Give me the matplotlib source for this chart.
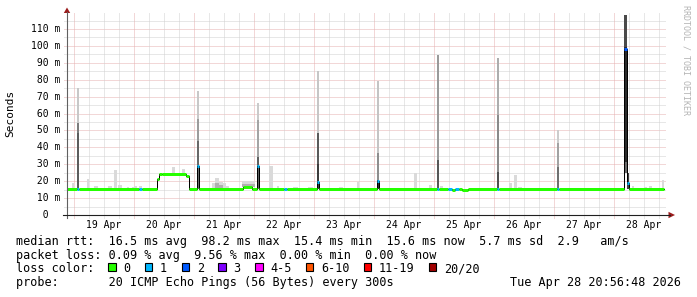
import numpy as np
import matplotlib
matplotlib.use("Agg")
import matplotlib.pyplot as plt
import matplotlib.transforms as mtransforms
from matplotlib.patches import Rectangle, Polygon
from matplotlib.lines import Line2D

plt.rcParams['font.family'] = 'DejaVu Sans Mono'
plt.rcParams['lines.scale_dashes'] = False

# axes ticks / labels
day_ticks = [19, 20, 21, 22, 23, 24, 25, 26, 27, 28]
day_labels = ['19 Apr', '20 Apr', '21 Apr', '22 Apr', '23 Apr',
              '24 Apr', '25 Apr', '26 Apr', '27 Apr', '28 Apr']
y_ticks = [0, 10, 20, 30, 40, 50, 60, 70, 80, 90, 100, 110]
y_labels = ['  0  ', ' 10 m', ' 20 m', ' 30 m', ' 40 m', ' 50 m', ' 60 m',
            ' 70 m', ' 80 m', ' 90 m', '100 m', '110 m']

# median rtt (ms) as steps: start time (day of april), value, loss count class
med_t = [18.890, 19.057, 19.090, 20.095, 20.145, 20.390, 20.423, 20.478, 20.873,
         20.917, 21.057, 21.090, 21.828, 21.978, 22.057, 22.090, 22.500, 22.557,
         23.057, 23.090, 24.057, 24.090, 25.057, 25.090, 25.240, 25.312, 25.362,
         25.417, 25.478, 25.578, 26.057, 26.090, 27.057, 27.090, 28.167, 28.223,
         28.257]
med_v = [15.5, 15.5, 15.5, 15.5, 15.5, 21.5, 24.5, 24.0, 23.0,
         15.5, 29.0, 15.5, 16.3, 15.5, 29.0, 15.5, 15.5, 15.5,
         19.5, 15.5, 20.0, 15.5, 15.5, 15.5, 15.5, 15.0, 15.5,
         15.5, 15.0, 15.5, 15.5, 15.5, 15.5, 15.5, 98.2, 19.1,
         15.6]
med_loss = [0, 1, 0, 1, 0, 0, 0, 0, 0,
            0, 1, 0, 0, 0, 1, 0, 1, 0,
            1, 0, 1, 0, 1, 0, 1, 0, 1,
            0, 0, 0, 1, 0, 1, 0, 2, 1,
            0]
t_last = 28.845

# light smoke (spread of the pings)
smoke_t0 = [18.978, 19.228, 19.345, 19.578, 19.678, 19.740, 19.890, 19.973, 20.012,
            20.095, 20.640, 20.807, 21.307, 21.362, 21.417, 21.490, 21.545, 21.807,
            22.250, 22.390, 22.662, 22.912, 23.428, 23.723, 24.667, 24.928, 25.112,
            26.250, 26.345, 26.412, 28.167, 28.307, 28.512, 28.595, 28.807]
smoke_t1 = [19.000, 19.262, 19.407, 19.645, 19.723, 19.807, 19.928, 20.000, 20.062,
            20.145, 20.683, 20.850, 21.362, 21.417, 21.490, 21.545, 21.583, 22.028,
            22.317, 22.428, 22.745, 22.995, 23.495, 23.757, 24.723, 24.973, 25.150,
            26.307, 26.390, 26.473, 28.223, 28.345, 28.562, 28.640, 28.845]
smoke_top = [18.7, 21.1, 17.3, 17.3, 26.6, 17.7, 16.6, 16.6, 17.3,
             17.3, 28.6, 27.0, 18.8, 22.0, 19.5, 18.8, 17.3, 19.9,
             29.2, 17.3, 16.3, 16.6, 16.6, 19.7, 25.0, 17.7, 17.3,
             18.7, 23.6, 16.3, 24.6, 17.0, 16.3, 17.3, 20.7]
# denser smoke
dsmoke_t0 = [21.362, 21.417, 21.807]
dsmoke_t1 = [21.417, 21.490, 22.028]
dsmoke_top = [19.0, 18.0, 18.5]

# the big spikes: top, band limits, bottom
spike_t0 = [19.057, 21.057, 22.057, 23.057, 24.057, 25.057, 26.057, 27.057, 28.167, 28.223]
spike_t1 = [19.090, 21.090, 22.090, 23.090, 24.090, 25.090, 26.090, 27.090, 28.223, 28.257]
spike_top = [75.0, 73.3, 66.0, 85.0, 79.3, 94.7, 92.7, 50.3, 118.3, 24.6]
spike_b1 = [54.6, 57.0, 56.0, 48.3, 36.5, 94.7, 59.0, 42.4, 99.5, 24.6]
spike_b2 = [48.5, 44.0, 34.5, 30.0, 20.7, 32.5, 25.6, 28.6, 31.5, 24.6]
spike_base = [15.5, 15.5, 15.5, 15.5, 15.5, 15.5, 15.5, 15.5, 24.6, 15.5]

# styles
spike_shades = [('#c8c8c8', '#7c7c7c', '#5c5c5c'), ('#c8c8c8', '#9c9c9c', '#686868'),
                ('#cacaca', '#a4a4a4', '#5e5e5e'), ('#c6c6c6', '#5a5a5a', '#3c3c3c'),
                ('#c4c4c4', '#8e8e8e', '#303030'), ('#9a9a9a', '#9a9a9a', '#575757'),
                ('#adadad', '#8a8a8a', '#505050'), ('#cccccc', '#a2a2a2', '#707070'),
                ('#4a4a4a', '#2a2a2a', '#6a6a6a'), ('#404040', '#404040', '#404040')]
loss_names = ['0', '1', '2', '3', '4-5', '6-10', '11-19', '20/20']
loss_colors = ['#26ff00', '#00b8ff', '#0059ff', '#7e00ff', '#ff00ff',
               '#ff5500', '#ff0000', '#a10000']

W, H = 697, 297
fig = plt.figure(figsize=(W / 100, H / 100), dpi=100)
fig.patch.set_facecolor('white')

def P(x, y):
    # pixel -> figure fraction
    return (x / W, 1 - y / H)

# 60 px per day, 10 days shown
x0_day = 18.8903
ax = fig.add_axes([67 / W, 82 / H, 600 / W, 202.9 / H])
ax.set_xlim(x0_day, x0_day + 10)
ax.set_ylim(0, 120)
ax.axis('off')

dx = 3 / 600
dy = 3 / 202.9
grey = '#d0d0d0'
pink = '#e6b0b0'
dots = (0, (0.72, 0.72))
# grid
for v in np.arange(5, 120, 10):
    ax.plot([-dx, 1 - 2 * dx / 3], [v, v], transform=ax.get_yaxis_transform(),
            clip_on=False, color=grey, lw=0.72, ls=dots, zorder=0)
for v in y_ticks[1:]:
    ax.plot([-dx, 1 - 2 * dx / 3], [v, v], transform=ax.get_yaxis_transform(),
            clip_on=False, color=pink, lw=0.72, ls=dots, zorder=0)
for d in np.arange(19.0, 28.87, 0.25):
    if d % 1 == 0:
        col = pink
    else:
        col = grey
    ax.plot([d, d], [-dy, 1], transform=ax.get_xaxis_transform(), clip_on=False,
            color=col, lw=0.72, ls=dots, zorder=0)

# median lookup for smoke bottoms
med_t_arr = np.array(med_t)
def med_at(t):
    i = np.searchsorted(med_t_arr, t, side='right') - 1
    return med_v[i]

for a, b, top in zip(smoke_t0, smoke_t1, smoke_top):
    lo = med_at((a + b) / 2)
    ax.add_patch(Rectangle((a, lo), b - a, top - lo, facecolor='#dadada', lw=0, zorder=1))
for a, b, top in zip(dsmoke_t0, dsmoke_t1, dsmoke_top):
    lo = med_at((a + b) / 2)
    ax.add_patch(Rectangle((a, lo), b - a, top - lo, facecolor='#b0b0b0', lw=0, zorder=1.5))

for i in range(len(spike_t0)):
    a, b = spike_t0[i], spike_t1[i]
    c1, c2, c3 = spike_shades[i]
    bands = [(spike_b1[i], spike_top[i], c1), (spike_b2[i], spike_b1[i], c2),
             (spike_base[i], spike_b2[i], c3)]
    for lo, hi, c in bands:
        if hi > lo:
            ax.add_patch(Rectangle((a, lo), b - a, hi - lo, facecolor=c, lw=0, zorder=2))

# median line: thin black steps + thick loss colored pieces
ends = med_t[1:] + [t_last]
xs, ys = [], []
for a, b, v in zip(med_t, ends, med_v):
    xs += [a, b]
    ys += [v, v]
ax.plot(xs, ys, color='black', lw=0.72, zorder=3)
for a, b, v, l in zip(med_t, ends, med_v, med_loss):
    ax.plot([a, b], [v, v], color=loss_colors[l], lw=2.16, solid_capstyle='butt', zorder=4)

# axes lines and arrows
fig.add_artist(Line2D([P(67, 218)[0], P(67, 12)[0]], [P(67, 218)[1], P(67, 12)[1]],
                      color='#606060', lw=0.8))
fig.add_artist(Line2D([P(63, 215)[0], P(670, 215)[0]], [P(63, 215)[1], P(670, 215)[1]],
                      color='#202020', lw=0.8))
fig.add_artist(Polygon([P(67, 7.5), P(63.8, 13), P(70.2, 13)], closed=True,
                       facecolor='#9b1c1c', edgecolor='none'))
fig.add_artist(Polygon([P(675, 215), P(668.5, 211.8), P(668.5, 218.2)], closed=True,
                       facecolor='#9b1c1c', edgecolor='none'))

# tick labels
ytr = mtransforms.blended_transform_factory(fig.transFigure, ax.transData)
for v, lab in zip(y_ticks, y_labels):
    ax.text(30.5 / W, v, lab, transform=ytr, ha='left', va='center', fontsize=7,
            color='black', clip_on=False)
xtr = mtransforms.blended_transform_factory(ax.transData, fig.transFigure)
for d, lab in zip(day_ticks, day_labels):
    ax.text(d + 0.5, 1 - 225 / H, lab, transform=xtr, ha='center', va='center',
            fontsize=7, color='black', clip_on=False)

fig.text(*P(10, 113), 'Seconds', rotation=90, ha='center', va='center', fontsize=8)
fig.text(*P(686, 5), 'RRDTOOL / TOBI OETIKER', rotation=-90, ha='center', va='top',
         fontsize=6, color='#b4b4b4')

# legend text
fs = 8.5
fig.text(*P(16, 241), 'median rtt:  16.5 ms avg  98.2 ms max  15.4 ms min  '
         '15.6 ms now  5.7 ms sd  2.9   am/s', ha='left', va='center', fontsize=fs)
fig.text(*P(16, 255), 'packet loss: 0.09 % avg  9.56 % max  0.00 % min  0.00 % now',
         ha='left', va='center', fontsize=fs)
fig.text(*P(16, 268.5), 'loss color:', ha='left', va='center', fontsize=fs)
fig.text(*P(16, 282.5), 'probe:       20 ICMP Echo Pings (56 Bytes) every 300s',
         ha='left', va='center', fontsize=fs)
fig.text(*P(681, 282.5), 'Tue Apr 28 20:56:48 2026', ha='right', va='center', fontsize=fs)

cw = 7.08
bx = 108.3
for name, col in zip(loss_names, loss_colors):
    bx0, by0 = P(bx, 270.5)
    fig.add_artist(Rectangle((bx0, by0), 7.5 / W, 7.5 / H, facecolor=col,
                             edgecolor='black', lw=0.8, transform=fig.transFigure))
    fig.text(*P(bx + 15, 268.5), name, ha='left', va='center', fontsize=fs)
    bx = bx + 15 + len(name) * cw + 14.6

fig.savefig('out.png', dpi=100, facecolor='white')
